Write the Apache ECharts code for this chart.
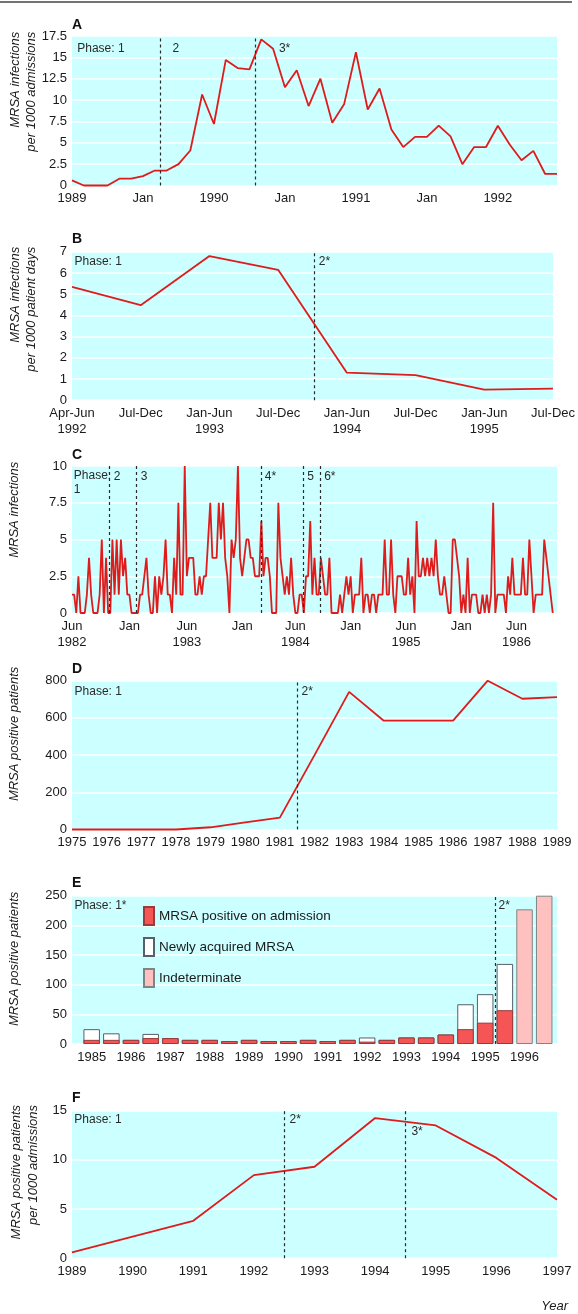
<!DOCTYPE html>
<html><head><meta charset="utf-8">
<script src="https://cdn.jsdelivr.net/npm/echarts@6/dist/echarts.min.js"></script>
<style>html,body{margin:0;padding:0;background:#fff}#c{width:578px;height:1314px}</style>
</head><body><div id="c"></div>
<script>
const FONT = "'Liberation Sans',Arial,sans-serif";

// ---- Panel A (monthly, index 0..41)
const aTickIdx = [0, 6, 12, 18, 24, 30, 36];
const aTickLbl = ['1989', 'Jan', '1990', 'Jan', '1991', 'Jan', '1992'];
const aValues = [0.6, 0, 0, 0, 0.8, 0.8, 1.1, 1.75, 1.75, 2.5, 4.1, 10.65, 7.2, 14.7, 13.75, 13.6, 17.1, 16.0, 11.5, 13.5, 9.3, 12.5, 7.35, 9.5, 15.6, 8.9, 11.35, 6.55, 4.5, 5.7, 5.7, 7.0, 5.75, 2.5, 4.5, 4.5, 7.0, 4.8, 2.95, 4.05, 1.35, 1.35];
const aPhaseX = [7.5, 15.5];
const aPhaseLbl = [['Phase: 1', 0.4, 16.05], ['2', 8.45, 16.05], ['3*', 17.45, 16.05]];

// ---- Panel B (half-years)
const bTickLbl = ['Apr-Jun\n1992', 'Jul-Dec', 'Jan-Jun\n1993', 'Jul-Dec', 'Jan-Jun\n1994', 'Jul-Dec', 'Jan-Jun\n1995', 'Jul-Dec'];
const bValues = [5.35, 4.48, 6.8, 6.15, 1.3, 1.18, 0.5, 0.55];
const bPhaseX = [3.53];
const bPhaseLbl = [['Phase: 1', 0.03, 6.53], ['2*', 3.585, 6.53]];

// ---- Panel C (weekly counts)
const cTickIdx = [0, 27, 54, 80, 105, 131, 157, 183, 209];
const cTickLbl = ['Jun\n1982', 'Jan', 'Jun\n1983', 'Jan', 'Jun\n1984', 'Jan', 'Jun\n1985', 'Jan', 'Jun\n1986'];
const cValues = [
  1.25, 1.25, 0, 2.5, 0, 0, 0, 1.25, 3.75, 1.25, 0, 0, 0, 1.25, 5, 0, 3.75, 0,
  0, 5, 1.25, 5, 1.25, 5, 2.5, 3.75, 1.25, 1.25, 0, 0, 0,
  0, 1.25, 1.25, 2.5, 3.75, 1.25, 0, 0, 2.5, 0, 2.5, 1.25, 2.5, 5, 1.25, 1.25, 0, 3.75, 1.25,
  7.5, 1.25, 1.25, 10, 2.5, 3.75, 3.75, 3.75, 1.25, 1.25, 2.5, 1.25, 2.5, 2.5, 5, 7.5, 3.75, 3.75, 3.75, 7.5,
  5, 7.5, 3.75, 2.5, 0, 5, 3.75, 5, 10, 3.75, 2.5, 3.75, 5, 5, 3.75, 3.75, 2.5, 2.5, 2.5,
  6.25, 2.5, 3.75, 3.75, 2.5, 0, 0, 0, 7.5, 3.75, 2.5, 1.25, 2.5, 1.25, 3.75, 1.25, 0, 0, 1.25, 1.25, 0,
  2.5, 2.5, 6.25, 1.25, 3.75, 1.25, 1.25, 3.75, 2.5, 1.25, 1.25, 3.75, 0, 0, 0, 0, 1.25, 0, 1.25,
  2.5, 1.25, 2.5, 0, 1.25, 1.25, 1.25, 3.75, 0, 1.25, 1.25, 0, 1.25, 1.25, 0, 1.25, 1.25, 1.25, 5,
  1.25, 1.25, 5, 1.25, 0, 2.5, 2.5, 2.5, 1.25, 1.25, 3.75, 1.25, 2.5, 0, 6.25, 2.5, 2.5, 3.75, 2.5,
  3.75, 2.5, 3.75, 2.5, 5, 2.5, 1.25, 1.25, 2.5, 1.25, 0, 0, 5, 5, 3.75, 2.5, 0, 1.25, 0, 3.75, 0,
  1.25, 1.25, 1.25, 0, 0, 1.25, 0, 1.25, 0, 1.25, 7.5, 0, 1.25, 1.25, 1.25, 1.25, 0, 2.5, 1.25, 3.75,
  1.25, 1.25, 1.25, 1.25, 3.75, 1.25, 1.25, 5, 2.5, 0, 1.25, 1.25, 1.25, 1.25, 5, 3.75, 2.5, 1.25, 0
];
const cMaxIdx = 228;
const cPhaseX = [17.4, 30.4, 88.9, 108.6, 116.6];
const cPhaseLbl = [['Phase:\n1', 0.6, 8.85], ['2', 19.4, 9.3], ['3', 32.1, 9.3], ['4*', 90.4, 9.3], ['5', 110.3, 9.3], ['6*', 118.3, 9.3]];

// ---- Panel D (years)
const dYears = [1975, 1976, 1977, 1978, 1979, 1980, 1981, 1982, 1983, 1984, 1985, 1986, 1987, 1988, 1989];
const dValues = [0, 0, 0, 0, 12, 38, 64, 400, 740, 585, 585, 585, 800, 703, 712];
const dPhaseX = [1981.5];
const dPhaseLbl = [['Phase: 1', 1975.06, 740], ['2*', 1981.61, 740]];

// ---- Panel E (half-year bars, index 0..23)
const eTickIdx = [0, 2, 4, 6, 8, 10, 12, 14, 16, 18, 20, 22];
const eTickLbl = ['1985', '1986', '1987', '1988', '1989', '1990', '1991', '1992', '1993', '1994', '1995', '1996'];
const eOnAdmission = [7, 7, 7, 10, 10, 7, 7, 5, 7, 5, 5, 7, 5, 7, 4, 7, 11, 11, 16, 25, 36, 57, 0, 0];
const eNewlyAcquired = [18, 11, 0, 7, 0, 0, 0, 0, 0, 0, 0, 0, 0, 0, 7, 0, 0, 0, 0, 42, 48, 78, 0, 0];
const eIndeterminate = [0, 0, 0, 0, 0, 0, 0, 0, 0, 0, 0, 0, 0, 0, 0, 0, 0, 0, 0, 0, 0, 0, 227, 250];
const eSeriesNames = ['MRSA positive on admission', 'Newly acquired MRSA', 'Indeterminate'];
const ePhaseX = [20.5];
const ePhaseLbl = [['Phase: 1*', -0.9, 233], ['2*', 20.65, 233]];

// ---- Panel F (years)
const fYears = [1989, 1990, 1991, 1992, 1993, 1994, 1995, 1996, 1997];
const fValues = [0.6, 2.2, 3.8, 8.45, 9.3, 14.25, 13.5, 10.2, 5.95];
const fPhaseX = [1992.5, 1994.5];
const fPhaseLbl = [['Phase: 1', 1989.03, 14.06], ['2*', 1992.58, 14.06], ['3*', 1994.59, 12.87]];

// ---- layout
const grids = [
  { left: 72, top: 36, width: 485, height: 149.5 },
  { left: 72, top: 251.8, width: 485, height: 148.4 },
  { left: 72, top: 466, width: 485, height: 147 },
  { left: 72, top: 680.7, width: 485, height: 148.8 },
  { left: 72, top: 895.7, width: 485, height: 148.3 },
  { left: 72, top: 1110.7, width: 485, height: 147.5 }
].map(g => Object.assign(g, { show: true, backgroundColor: '#ccffff', borderWidth: 0 }));

const TXT = '#1a1a1a';
const TICK = 13;
function yAx(gi, min, max, interval) {
  return { type: 'value', gridIndex: gi, min: min, max: max, interval: interval,
    axisLine: { show: false }, axisTick: { show: false },
    axisLabel: { color: TXT, fontSize: TICK, fontFamily: FONT, margin: 5 },
    splitLine: { show: true, lineStyle: { color: '#ffffff', width: 1.6 } } };
}
function xAx(gi, min, max, idx, lbl) {
  const m = {};
  idx.forEach((v, i) => { m[v] = lbl[i]; });
  return { type: 'value', gridIndex: gi, min: min, max: max, interval: 1,
    axisLine: { show: false }, axisTick: { show: false }, splitLine: { show: false },
    axisLabel: { color: TXT, fontSize: TICK, fontFamily: FONT, margin: 5, lineHeight: 16,
      showMinLabel: true, showMaxLabel: true,
      formatter: v => (m[v] !== undefined ? m[v] : '') } };
}
function phaseLines(xs) {
  return { symbol: ['none', 'none'], silent: true, animation: false, label: { show: false },
    lineStyle: { type: [3, 3], color: '#2b2b2b', width: 1.2 },
    data: xs.map(x => ({ xAxis: x })) };
}
function phaseText(list) {
  return { symbol: 'rect', symbolSize: 1, silent: true, animation: false,
    itemStyle: { color: 'rgba(0,0,0,0)' },
    label: { show: true, position: 'right', distance: 0, color: '#2a2a2a', fontSize: 12,
      fontFamily: FONT, lineHeight: 14, formatter: '{b}' },
    data: list.map(l => ({ name: l[0], coord: [l[1], l[2]] })) };
}
function lineSeries(gi, pairs, phX, phL) {
  return { type: 'line', xAxisIndex: gi, yAxisIndex: gi, data: pairs, symbol: 'none', clip: false,
    lineStyle: { color: '#e01b1b', width: 1.8 }, z: 3,
    markLine: phaseLines(phX), markPoint: phaseText(phL) };
}

// Bars of panel E are drawn overlapping (barGap -100%): each later series covers the lower part of the earlier.
const eNewlyTop = eNewlyAcquired.map((v, i) => v + eOnAdmission[i]);
const eBar = (name, data, color, border, z) => ({
  type: 'bar', name: name, xAxisIndex: 4, yAxisIndex: 4, barWidth: 16.5, barGap: '-100%', z: z,
  data: data.map((v, i) => [i, v > 0 ? v : '-']),
  itemStyle: { color: color, borderColor: border, borderWidth: 1 }
});

const series = [
  lineSeries(0, aValues.map((v, i) => [i, v]), aPhaseX, aPhaseLbl),
  lineSeries(1, bValues.map((v, i) => [i, v]), bPhaseX, bPhaseLbl),
  lineSeries(2, cValues.map((v, i) => [i, v]), cPhaseX, cPhaseLbl),
  lineSeries(3, dValues.map((v, i) => [dYears[i], v]), dPhaseX, dPhaseLbl),
  eBar(eSeriesNames[2], eIndeterminate, '#ffc0c0', '#7d8585', 2),
  eBar(eSeriesNames[1], eNewlyTop, '#ffffff', '#55606a', 2),
  Object.assign(eBar(eSeriesNames[0], eOnAdmission, '#f65555', '#9a3a3a', 2), {
    markLine: phaseLines(ePhaseX), markPoint: phaseText(ePhaseLbl) }),
  lineSeries(5, fValues.map((v, i) => [fYears[i], v]), fPhaseX, fPhaseLbl)
];

const xAxes = [
  xAx(0, 0, 41, aTickIdx, aTickLbl),
  xAx(1, 0, 7, bTickLbl.map((_, i) => i), bTickLbl),
  xAx(2, 0, cMaxIdx, cTickIdx, cTickLbl),
  xAx(3, 1975, 1989, dYears, dYears.map(String)),
  xAx(4, -1, 23.65, eTickIdx, eTickLbl),
  xAx(5, 1989, 1997, fYears, fYears.map(String))
];
const yAxes = [
  yAx(0, 0, 17.5, 2.5), yAx(1, 0, 7, 1), yAx(2, 0, 10, 2.5),
  yAx(3, 0, 800, 200), yAx(4, 0, 250, 50), yAx(5, 0, 15, 5)
];

function letter(t, y) {
  return { type: 'text', x: 72, y: y, style: { text: t, fontSize: 14, fontWeight: 'bold', fontFamily: FONT, fill: '#111', verticalAlign: 'middle' } };
}
function ytitle(t, x, y) {
  return { type: 'text', x: x, y: y, rotation: Math.PI / 2,
    style: { text: t, fontSize: 13, fontStyle: 'italic', fontFamily: FONT, fill: TXT, align: 'right', verticalAlign: 'middle', lineHeight: 16.5 } };
}

const graphic = [
  { type: 'line', shape: { x1: 0, y1: 2, x2: 572, y2: 2 }, style: { stroke: '#444', lineWidth: 1.5 } },
  letter('A', 25), letter('B', 239), letter('C', 455), letter('D', 669.3), letter('E', 883.3), letter('F', 1098),
  ytitle('MRSA infections\nper 1000 admissions', 23.2, 31.7),
  ytitle('MRSA infections\nper 1000 patient days', 23.2, 246.7),
  ytitle('MRSA infections', 14.5, 461.7),
  ytitle('MRSA positive patients', 14.8, 666.7),
  ytitle('MRSA positive patients', 14.8, 891.7),
  ytitle('MRSA positive patients\nper 1000 admissions', 25, 1105),
  { type: 'text', x: 568, y: 1306.7, style: { text: 'Year', fontSize: 13, fontStyle: 'italic', fontFamily: FONT, fill: TXT, align: 'right', verticalAlign: 'middle' } }
];

const chart = echarts.init(document.getElementById('c'), null, { renderer: 'canvas' });
chart.setOption({
  animation: false,
  backgroundColor: '#ffffff',
  grid: grids,
  xAxis: xAxes,
  yAxis: yAxes,
  legend: { data: eSeriesNames, left: 138, top: 901, orient: 'vertical', icon: 'rect',
    itemWidth: 10, itemHeight: 18, itemGap: 11, selectedMode: false,
    textStyle: { fontSize: 13.5, fontFamily: FONT, color: TXT } },
  series: series,
  graphic: graphic
});
</script></body></html>
